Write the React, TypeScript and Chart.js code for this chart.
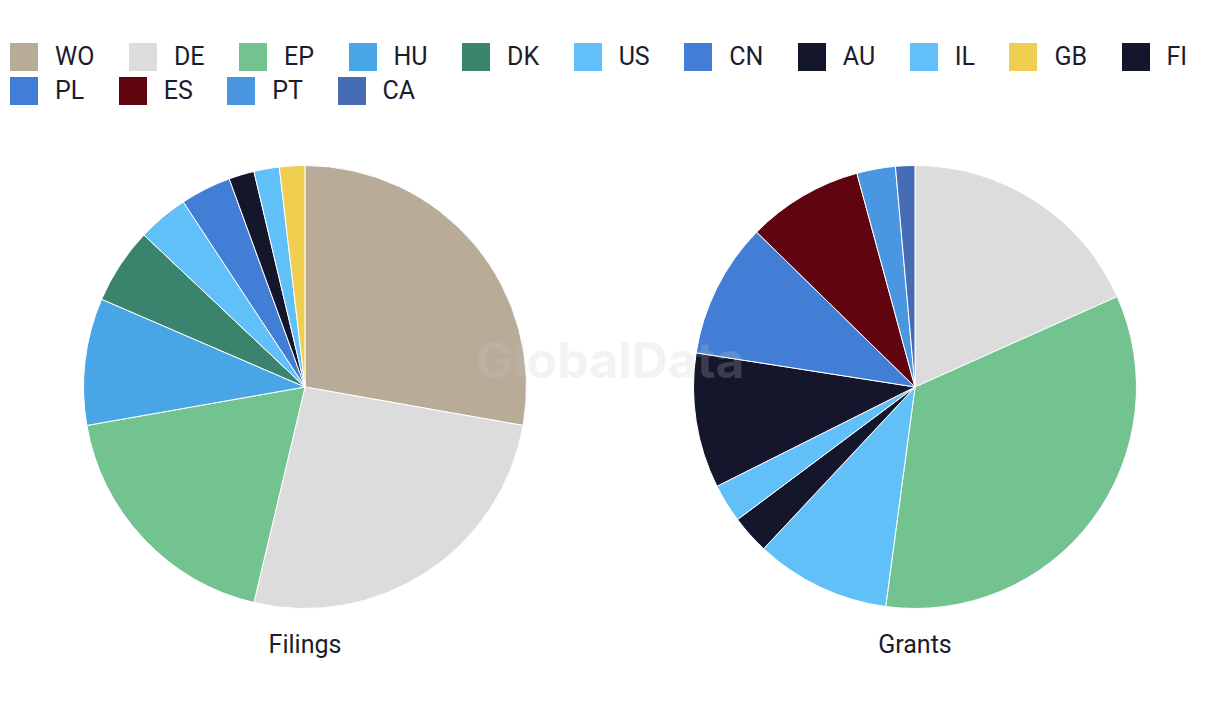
import React, { useEffect, useRef } from "react";
import { Chart, registerables } from "chart.js";

Chart.register(...registerables);

const legendLabels = ["WO", "DE", "EP", "HU", "DK", "US", "CN", "AU", "IL", "GB", "FI", "PL", "ES", "PT", "CA"];
const legendColors = ["#b8ab98", "#dcdcdc", "#73c391", "#49a6e6", "#3a836d", "#62c0f9", "#427ed6", "#14162b", "#62c0f9", "#f0ce50", "#14162b", "#427ed6", "#600510", "#4a96e0", "#456cb4"];

const filingLabels = ["WO", "DE", "EP", "HU", "DK", "US", "CN", "AU", "IL", "GB"];
const filingValues = [15, 14, 10, 5, 3, 2, 2, 1, 1, 1];

const grantLabels = ["DE", "EP", "US", "AU", "IL", "FI", "PL", "ES", "PT", "CA"];
const grantValues = [13, 24, 7, 2, 2, 7, 7, 6, 2, 1];

const colorOf = (l: string) => legendColors[legendLabels.indexOf(l)];
const FONT = "Roboto, 'Noto Sans', sans-serif";
const TEXT = "#1b1d2e";

function Pie({ labels, values, left, top, size }: { labels: string[]; values: number[]; left: number; top: number; size: number }) {
  const ref = useRef<HTMLCanvasElement>(null);
  useEffect(() => {
    if (!ref.current) return;
    const chart = new Chart(ref.current, {
      type: "pie",
      data: {
        labels,
        datasets: [
          {
            data: values,
            backgroundColor: labels.map(colorOf),
            borderColor: "#ffffff",
            borderWidth: 1,
          },
        ],
      },
      options: {
        responsive: false,
        animation: false,
        layout: { padding: 0 },
        plugins: { legend: { display: false }, tooltip: { enabled: false } },
      },
    });
    return () => chart.destroy();
  }, []);
  return (
    <canvas
      ref={ref}
      width={size}
      height={size}
      style={{ position: "absolute", left, top, width: size, height: size }}
    />
  );
}

export default function App() {
  const size = 444;
  return (
    <div style={{ position: "fixed", left: 0, top: 0, width: 1220, height: 720, background: "#fff", fontFamily: FONT, color: TEXT, overflow: "hidden" }}>
      <div style={{ position: "absolute", left: 10, top: 43, width: 1240, display: "flex", flexWrap: "wrap", rowGap: 6 }}>
        {legendLabels.map((l, i) => (
          <div key={i} style={{ display: "flex", alignItems: "center", height: 28, marginRight: 34.5 }}>
            <div style={{ width: 28, height: 28, background: legendColors[i], marginRight: 17 }} />
            <span style={{ fontSize: 25, lineHeight: "28px" }}>{l}</span>
          </div>
        ))}
      </div>
      <Pie labels={filingLabels} values={filingValues} left={305 - size / 2} top={387 - size / 2} size={size} />
      <Pie labels={grantLabels} values={grantValues} left={915 - size / 2} top={387 - size / 2} size={size} />
      <div style={{ position: "absolute", left: 205, width: 200, top: 630, textAlign: "center", fontSize: 25, lineHeight: "30px" }}>Filings</div>
      <div style={{ position: "absolute", left: 815, width: 200, top: 630, textAlign: "center", fontSize: 25, lineHeight: "30px" }}>Grants</div>
      <div style={{ position: "absolute", left: 360, width: 500, top: 335, textAlign: "center", fontFamily: "Inter, sans-serif", fontSize: 50, fontWeight: 700, lineHeight: "50px", color: "rgba(200,200,205,0.22)", pointerEvents: "none" }}>GlobalData</div>
    </div>
  );
}
